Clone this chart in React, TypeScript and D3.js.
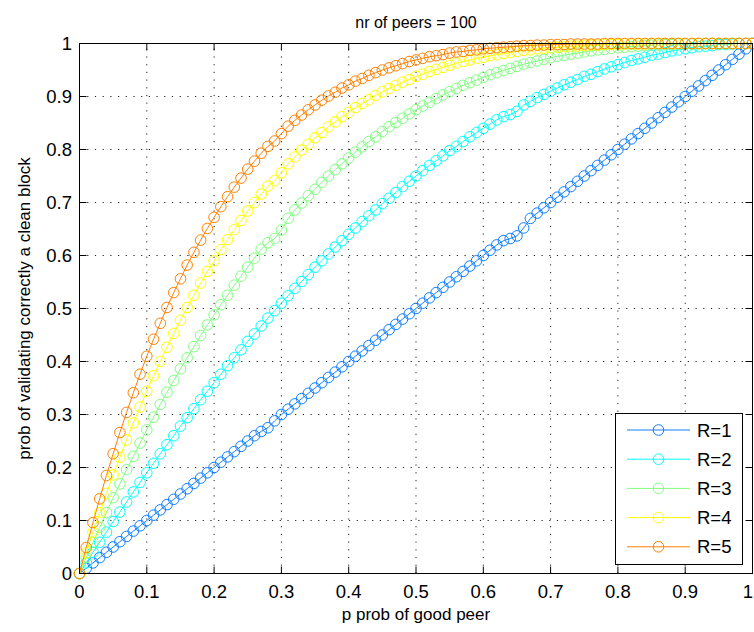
import React from "react";
import * as d3 from "d3";

// probability of a good peer, sampled every 0.01
const pValues: number[] = d3.range(0, 101).map((i) => i / 100);

const seriesNames: string[] = ["R=1", "R=2", "R=3", "R=4", "R=5"];
const seriesColors: string[] = ["#0f7fff", "#00ffff", "#80ff80", "#ffff00", "#ff8000"];

const r1: number[] = [
  0, 0.01, 0.02, 0.03, 0.04, 0.05, 0.06, 0.07, 0.08, 0.09,
  0.1, 0.11, 0.12, 0.13, 0.14, 0.15, 0.16, 0.17, 0.18, 0.19,
  0.2, 0.21, 0.22, 0.23, 0.24, 0.25, 0.26, 0.268, 0.275, 0.288,
  0.3, 0.31, 0.32, 0.33, 0.34, 0.35, 0.36, 0.37, 0.38, 0.39,
  0.4, 0.41, 0.42, 0.43, 0.44, 0.45, 0.46, 0.47, 0.48, 0.49,
  0.5, 0.51, 0.52, 0.53, 0.54, 0.55, 0.56, 0.57, 0.58, 0.59,
  0.6, 0.61, 0.62, 0.628, 0.632, 0.637, 0.652, 0.67, 0.68, 0.69,
  0.7, 0.71, 0.72, 0.73, 0.74, 0.75, 0.76, 0.77, 0.78, 0.79,
  0.8, 0.81, 0.82, 0.83, 0.84, 0.85, 0.86, 0.87, 0.88, 0.89,
  0.9, 0.91, 0.92, 0.93, 0.94, 0.95, 0.96, 0.97, 0.98, 0.99,
  1,
];

const r2: number[] = [
  0, 0.02, 0.04, 0.059, 0.078, 0.098, 0.116, 0.135, 0.154, 0.172,
  0.19, 0.208, 0.226, 0.243, 0.26, 0.278, 0.294, 0.311, 0.328, 0.344,
  0.36, 0.376, 0.392, 0.407, 0.422, 0.438, 0.452, 0.467, 0.482, 0.496,
  0.51, 0.524, 0.538, 0.551, 0.564, 0.578, 0.59, 0.603, 0.616, 0.628,
  0.64, 0.652, 0.664, 0.675, 0.686, 0.698, 0.708, 0.719, 0.73, 0.74,
  0.75, 0.76, 0.77, 0.779, 0.788, 0.798, 0.806, 0.815, 0.824, 0.832,
  0.84, 0.848, 0.856, 0.862, 0.866, 0.872, 0.884, 0.891, 0.898, 0.904,
  0.91, 0.916, 0.922, 0.927, 0.932, 0.938, 0.942, 0.947, 0.952, 0.956,
  0.96, 0.964, 0.968, 0.971, 0.974, 0.978, 0.98, 0.983, 0.986, 0.988,
  0.99, 0.992, 0.994, 0.995, 0.996, 0.998, 0.998, 0.999, 1, 1,
  1,
];

const r3: number[] = [
  0, 0.03, 0.059, 0.087, 0.115, 0.143, 0.169, 0.196, 0.221, 0.246,
  0.271, 0.295, 0.319, 0.342, 0.364, 0.386, 0.407, 0.428, 0.449, 0.469,
  0.488, 0.507, 0.525, 0.544, 0.561, 0.578, 0.595, 0.612, 0.624, 0.632,
  0.648, 0.67, 0.686, 0.699, 0.713, 0.725, 0.738, 0.75, 0.762, 0.773,
  0.784, 0.795, 0.805, 0.815, 0.824, 0.834, 0.843, 0.851, 0.859, 0.867,
  0.875, 0.882, 0.889, 0.896, 0.903, 0.909, 0.915, 0.921, 0.926, 0.931,
  0.936, 0.941, 0.945, 0.949, 0.953, 0.957, 0.961, 0.964, 0.967, 0.97,
  0.973, 0.976, 0.978, 0.98, 0.982, 0.984, 0.986, 0.988, 0.989, 0.991,
  0.992, 0.993, 0.994, 0.995, 0.996, 0.997, 0.997, 0.998, 0.998, 0.999,
  0.999, 0.999, 1, 1, 1, 1, 1, 1, 1, 1,
  1,
];

const r4: number[] = [
  0, 0.039, 0.078, 0.115, 0.151, 0.186, 0.219, 0.252, 0.284, 0.314,
  0.344, 0.373, 0.4, 0.427, 0.453, 0.478, 0.502, 0.525, 0.548, 0.57,
  0.59, 0.611, 0.63, 0.649, 0.666, 0.684, 0.7, 0.716, 0.731, 0.741,
  0.756, 0.773, 0.786, 0.799, 0.81, 0.822, 0.832, 0.843, 0.852, 0.862,
  0.87, 0.879, 0.887, 0.894, 0.902, 0.909, 0.915, 0.921, 0.927, 0.932,
  0.938, 0.942, 0.947, 0.951, 0.955, 0.959, 0.963, 0.966, 0.969, 0.972,
  0.974, 0.977, 0.979, 0.981, 0.983, 0.985, 0.987, 0.988, 0.99, 0.991,
  0.992, 0.993, 0.994, 0.995, 0.995, 0.996, 0.997, 0.997, 0.998, 0.998,
  0.998, 0.999, 0.999, 0.999, 0.999, 1, 1, 1, 1, 1,
  1, 1, 1, 1, 1, 1, 1, 1, 1, 1,
  1,
];

const r5: number[] = [
  0, 0.049, 0.096, 0.141, 0.185, 0.226, 0.266, 0.304, 0.341, 0.376,
  0.41, 0.442, 0.472, 0.502, 0.53, 0.556, 0.582, 0.606, 0.629, 0.651,
  0.672, 0.692, 0.711, 0.729, 0.746, 0.763, 0.778, 0.793, 0.806, 0.816,
  0.83, 0.844, 0.855, 0.865, 0.875, 0.884, 0.893, 0.901, 0.908, 0.916,
  0.922, 0.929, 0.934, 0.94, 0.945, 0.95, 0.954, 0.958, 0.962, 0.966,
  0.969, 0.972, 0.975, 0.977, 0.979, 0.982, 0.984, 0.985, 0.987, 0.988,
  0.99, 0.991, 0.992, 0.993, 0.994, 0.995, 0.996, 0.996, 0.997, 0.997,
  0.998, 0.998, 0.998, 0.999, 0.999, 0.999, 0.999, 0.999, 1, 1,
  1, 1, 1, 1, 1, 1, 1, 1, 1, 1,
  1, 1, 1, 1, 1, 1, 1, 1, 1, 1,
  1,
];

const seriesValues: number[][] = [r1, r2, r3, r4, r5];

const xTicks: number[] = [0, 0.1, 0.2, 0.3, 0.4, 0.5, 0.6, 0.7, 0.8, 0.9, 1];
const yTicks: number[] = [0, 0.1, 0.2, 0.3, 0.4, 0.5, 0.6, 0.7, 0.8, 0.9, 1];

const titleText = "nr of peers = 100";
const xLabelText = "p prob of good peer";
const yLabelText = "prob of validating correctly a clean block";

const W = 754;
const H = 632;
const plot = { left: 79.5, right: 752.5, top: 43.5, bottom: 573.5 };
const FONT = "'Liberation Sans', Arial, Helvetica, sans-serif";
const FS = 17;
const TICK_FS = 18.5;
const TICK = 7;
const MARKER_R = 5.3;

const fmt = (v: number) => (v === 0 || v === 1 ? String(v) : String(+v.toFixed(1)));

export default function App() {
  const x = d3.scaleLinear().domain([0, 1]).range([plot.left, plot.right]);
  const y = d3.scaleLinear().domain([0, 1]).range([plot.bottom, plot.top]);
  const line = d3
    .line<[number, number]>()
    .x((d) => x(d[0]))
    .y((d) => y(d[1]));

  const legend = { left: 615.5, top: 413.5, right: 742.5, bottom: 564.5 };
  const legendRowY = (i: number) => 430 + i * 29.2;

  return (
    <svg
      width={W}
      height={H}
      style={{ position: "absolute", left: 0, top: 0, background: "#fff" }}
      fontFamily={FONT}
    >
      <rect x={0} y={0} width={W} height={H} fill="#fff" />

      {/* dotted grid */}
      <g stroke="#222" strokeWidth={1} strokeDasharray="1.2 6.5">
        {xTicks.slice(1, -1).map((t) => (
          <line key={"gx" + t} x1={x(t)} x2={x(t)} y1={plot.bottom} y2={plot.top} />
        ))}
        {yTicks.slice(1, -1).map((t) => (
          <line key={"gy" + t} x1={plot.left} x2={plot.right} y1={y(t)} y2={y(t)} />
        ))}
      </g>

      {/* data series */}
      {seriesValues.map((vals, si) => {
        const pts: [number, number][] = pValues.map((p, i) => [p, vals[i]]);
        return (
          <g key={seriesNames[si]} stroke={seriesColors[si]} fill="none" strokeWidth={1}>
            <path d={line(pts) || ""} />
            {pts.map((d, i) => (
              <circle key={i} cx={x(d[0])} cy={y(d[1])} r={MARKER_R} />
            ))}
          </g>
        );
      })}

      {/* axes box and ticks */}
      <g stroke="#000" strokeWidth={1} fill="none">
        <rect
          x={plot.left}
          y={plot.top}
          width={plot.right - plot.left}
          height={plot.bottom - plot.top}
        />
        {xTicks.map((t) => (
          <g key={"tx" + t}>
            <line x1={x(t)} x2={x(t)} y1={plot.bottom} y2={plot.bottom - TICK} />
            <line x1={x(t)} x2={x(t)} y1={plot.top} y2={plot.top + TICK} />
          </g>
        ))}
        {yTicks.map((t) => (
          <g key={"ty" + t}>
            <line x1={plot.left} x2={plot.left + TICK} y1={y(t)} y2={y(t)} />
            <line x1={plot.right} x2={plot.right - TICK} y1={y(t)} y2={y(t)} />
          </g>
        ))}
      </g>

      {/* tick labels */}
      <g fontSize={TICK_FS} fill="#000">
        {xTicks.map((t) => (
          <text key={"lx" + t} x={Math.min(x(t), 748)} y={598} textAnchor="middle">
            {fmt(t)}
          </text>
        ))}
        {yTicks.map((t) => (
          <text key={"ly" + t} x={72} y={y(t) + 6.5} textAnchor="end">
            {fmt(t)}
          </text>
        ))}
      </g>

      {/* title and axis labels */}
      <text x={(plot.left + plot.right) / 2} y={28} textAnchor="middle" fontSize={FS - 1}>
        {titleText}
      </text>
      <text x={(plot.left + plot.right) / 2} y={620} textAnchor="middle" fontSize={FS}>
        {xLabelText}
      </text>
      <text
        transform={`translate(30, ${(plot.top + plot.bottom) / 2}) rotate(-90)`}
        textAnchor="middle"
        fontSize={FS}
      >
        {yLabelText}
      </text>

      {/* legend */}
      <rect
        x={legend.left}
        y={legend.top}
        width={legend.right - legend.left}
        height={legend.bottom - legend.top}
        fill="#fff"
        stroke="#000"
        strokeWidth={1}
      />
      {seriesNames.map((name, i) => (
        <g key={"lg" + name}>
          <line
            x1={627}
            x2={690}
            y1={legendRowY(i)}
            y2={legendRowY(i)}
            stroke={seriesColors[i]}
            strokeWidth={1}
          />
          <circle
            cx={658.5}
            cy={legendRowY(i)}
            r={MARKER_R}
            fill="none"
            stroke={seriesColors[i]}
            strokeWidth={1}
          />
          <text x={697} y={legendRowY(i) + 6.5} fontSize={TICK_FS}>
            {name}
          </text>
        </g>
      ))}
    </svg>
  );
}
